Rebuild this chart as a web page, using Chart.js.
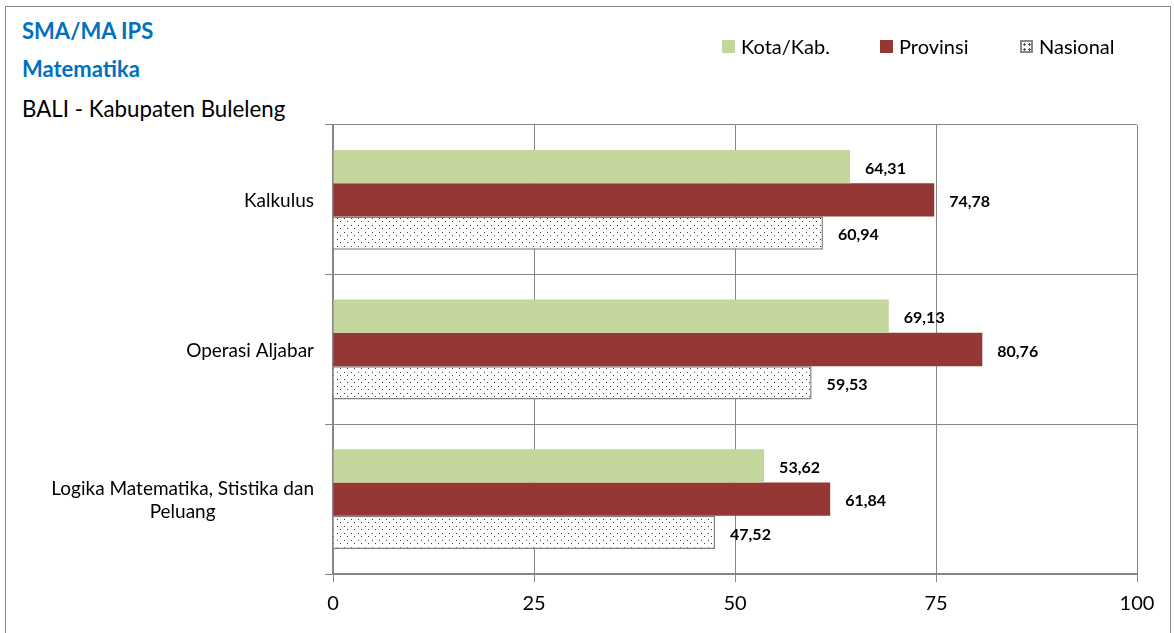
<!DOCTYPE html>
<html>
<head>
<meta charset="utf-8">
<script src="https://cdn.jsdelivr.net/npm/chart.js@4.4.1/dist/chart.umd.min.js"></script>
<style>
  html, body { margin: 0; padding: 0; background: #fff; }
  body { width: 1174px; height: 633px; position: relative; overflow: hidden; font-family: Lato, "Open Sans", sans-serif; }
  #frame { position: absolute; left: 5px; top: 6px; width: 1164px; height: 660px; border: 1px solid #878787; }
  #chartBox { position: absolute; left: 0; top: 0; width: 1174px; height: 633px; }
  .title { position: absolute; left: 22px; color: #0070C0; font-weight: bold; font-size: 22px; line-height: 26px; }
  #sub { position: absolute; left: 22px; top: 96px; font-size: 22.3px; line-height: 26px; color: #000; }
  #legend { position: absolute; top: 34px; left: 722px; font-size: 20px; color: #000; }
  .item { position: absolute; white-space: nowrap; display: flex; align-items: center; }
  .sw { width: 13px; height: 13px; margin-right: 6px; }
</style>
</head>
<body>
<div id="frame"></div>
<div class="title" style="top:18px">SMA/MA IPS</div>
<div class="title" style="top:56px">Matematika</div>
<div id="sub">BALI - Kabupaten Buleleng</div>
<div id="chartBox"><canvas id="chart" width="1174" height="633"></canvas></div>
<div id="legend"></div>
<script>
// Data
const categories = [
    ['Kalkulus'],
    ['Operasi Aljabar'],
    ['Logika Matematika, Stistika dan', 'Peluang']
];
const seriesNames = ['Kota/Kab.', 'Provinsi', 'Nasional'];
const kotaValues = [64.31, 69.13, 53.62];
const provinsiValues = [74.78, 80.76, 61.84];
const nasionalValues = [60.94, 59.53, 47.52];
const xTicks = [0, 25, 50, 75, 100];

const GREEN = '#C3D69B';
const RED = '#953735';
const GRID = '#868686';

// staggered dotted fill like the Excel pattern
function dotPattern(ctx) {
    const c = document.createElement('canvas');
    c.width = 7; c.height = 7;
    const p = c.getContext('2d');
    p.fillStyle = '#fff';
    p.fillRect(0, 0, 7, 7);
    p.fillStyle = '#3a3a3a';
    p.fillRect(1, 1, 1, 1);
    p.fillRect(4, 4, 1, 1);
    return ctx.createPattern(c, 'repeat');
}

const canvas = document.getElementById('chart');
const ctx = canvas.getContext('2d');
const dots = dotPattern(ctx);

// HTML legend
const legend = document.getElementById('legend');
const legendX = [0, 158, 298];
seriesNames.forEach((name, i) => {
    const item = document.createElement('div');
    item.className = 'item';
    item.style.left = legendX[i] + 'px';
    const sw = document.createElement('div');
    sw.className = 'sw';
    if (i === 0) sw.style.background = GREEN;
    else if (i === 1) sw.style.background = RED;
    else {
        sw.style.boxSizing = 'border-box';
        sw.style.border = '2px solid #888';
        sw.style.background = 'radial-gradient(circle, #555 1px, transparent 1.2px) 0 0 / 5px 5px, #fff';
    }
    item.appendChild(sw);
    item.appendChild(document.createTextNode(name));
    legend.appendChild(item);
});

const fmt = v => v.toFixed(2).replace('.', ',');

const valueLabels = {
    id: 'valueLabels',
    afterDatasetsDraw(chart) {
        const c = chart.ctx;
        c.save();
        c.font = 'bold 16px Lato, "Open Sans", sans-serif';
        c.fillStyle = '#000';
        c.textAlign = 'left';
        c.textBaseline = 'middle';
        chart.data.datasets.forEach((ds, i) => {
            chart.getDatasetMeta(i).data.forEach((bar, j) => {
                c.fillText(fmt(ds.data[j]), bar.x + 15, bar.y + 2);
            });
        });
        c.restore();
    }
};

// category labels: each label's lines centred on each other, block right-aligned
const categoryLabels = {
    id: 'categoryLabels',
    afterDraw(chart) {
        const c = chart.ctx;
        const y = chart.scales.y;
        c.save();
        c.font = '19px Lato, "Open Sans", sans-serif';
        c.fillStyle = '#000';
        c.textAlign = 'center';
        c.textBaseline = 'middle';
        const lineH = 23;
        categories.forEach((lines, i) => {
            const widest = Math.max(...lines.map(l => c.measureText(l).width));
            const cx = 314 - widest / 2;
            const cy = y.getPixelForTick(i) + 1;
            lines.forEach((l, k) => {
                c.fillText(l, cx, cy + (k - (lines.length - 1) / 2) * lineH);
            });
        });
        c.restore();
    }
};

new Chart(ctx, {
    type: 'bar',
    data: {
        labels: categories,
        datasets: [
            {
                label: seriesNames[0],
                data: kotaValues,
                backgroundColor: GREEN,
                borderWidth: 0
            },
            {
                label: seriesNames[1],
                data: provinsiValues,
                backgroundColor: RED,
                borderWidth: 0
            },
            {
                label: seriesNames[2],
                data: nasionalValues,
                backgroundColor: dots,
                borderColor: '#808080',
                borderWidth: 1.5
            }
        ]
    },
    options: {
        indexAxis: 'y',
        responsive: false,
        animation: false,
        layout: { padding: { top: 125, right: 37, left: 0, bottom: 0 } },
        datasets: {
            bar: { barPercentage: 1, categoryPercentage: 0.667 }
        },
        plugins: {
            legend: { display: false },
            tooltip: { enabled: false }
        },
        scales: {
            x: {
                min: 0,
                max: 100,
                afterBuildTicks: s => { s.ticks = xTicks.map(v => ({ value: v })); },
                afterFit: s => { s.height = 59; },
                grid: { color: GRID, lineWidth: 1, tickLength: 8 },
                border: { color: GRID, width: 2 },
                ticks: {
                    color: '#000',
                    padding: 10,
                    font: { family: 'Lato, "Open Sans", sans-serif', size: 20 }
                }
            },
            y: {
                afterFit: s => { s.width = 333; },
                grid: { color: GRID, lineWidth: 1, tickLength: 8, offset: true },
                border: { color: GRID, width: 2 },
                ticks: { display: false }
            }
        }
    },
    plugins: [valueLabels, categoryLabels]
});
</script>
</body>
</html>
